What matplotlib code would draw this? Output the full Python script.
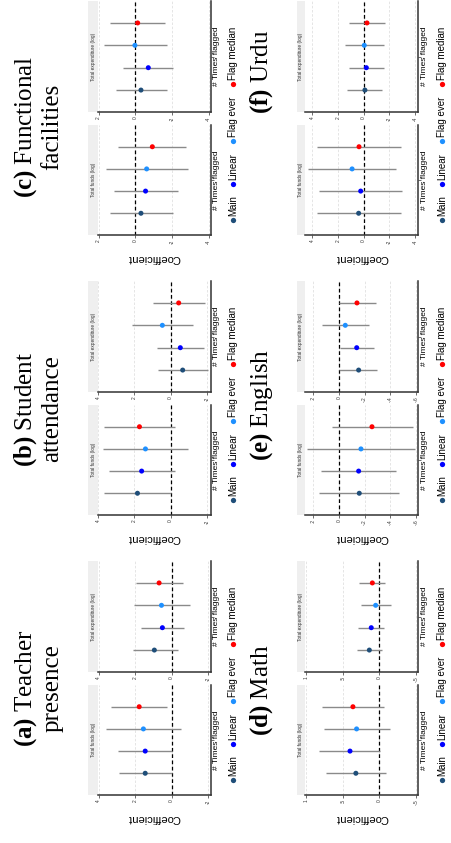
import matplotlib
matplotlib.use('Agg')
import matplotlib.pyplot as plt
from matplotlib.patches import Rectangle

plt.rcParams['font.family'] = ['Liberation Sans', 'DejaVu Sans']
plt.rcParams['mathtext.fontset'] = 'custom'
plt.rcParams['mathtext.rm'] = 'Liberation Serif'
plt.rcParams['mathtext.bf'] = 'Liberation Serif:bold'

# specifications shown in every panel
specs = ['Main', 'Linear', 'Flag ever', 'Flag median']
spec_colors = ['#1f4e79', '#0000ff', '#1e90ff', '#ff0000']
panel_labels = ['Total funds (log)', 'Total expenditure (log)']

# coefficient estimates and interval bounds (funds panel, expenditure panel)
teacher_funds_est = [1.45, 1.45, 1.55, 1.78]
teacher_funds_lo = [0.0, 0.0, -0.51, 0.25]
teacher_funds_hi = [2.9, 2.95, 3.58, 3.31]
teacher_exp_est = [0.95, 0.51, 0.56, 0.69]
teacher_exp_lo = [-0.33, -0.69, -1.0, -0.6]
teacher_exp_hi = [2.13, 1.67, 2.09, 1.95]

attend_funds_est = [1.83, 1.6, 1.39, 1.72]
attend_funds_lo = [0.0, -0.24, -0.94, -0.24]
attend_funds_hi = [3.65, 3.39, 3.71, 3.65]
attend_exp_est = [-0.66, -0.53, 0.46, -0.44]
attend_exp_lo = [-2.04, -1.83, -1.21, -1.89]
attend_exp_hi = [0.68, 0.73, 2.11, 0.99]

facil_funds_est = [-0.31, -0.56, -0.62, -0.93]
facil_funds_lo = [-2.04, -2.31, -2.85, -2.78]
facil_funds_hi = [1.38, 1.15, 1.6, 0.93]
facil_exp_est = [-0.31, -0.71, 0.02, -0.13]
facil_exp_lo = [-1.71, -2.07, -1.71, -1.64]
facil_exp_hi = [1.05, 0.65, 1.71, 1.4]

math_funds_est = [0.32, 0.40, 0.31, 0.36]
math_funds_lo = [-0.086, -0.01, -0.14, -0.06]
math_funds_hi = [0.73, 0.82, 0.76, 0.78]
math_exp_est = [0.136, 0.11, 0.05, 0.095]
math_exp_lo = [-0.04, -0.07, -0.16, -0.08]
math_exp_hi = [0.31, 0.29, 0.245, 0.28]

english_funds_est = [-0.158, -0.153, -0.171, -0.257]
english_funds_lo = [-0.47, -0.444, -0.592, -0.574]
english_funds_hi = [0.153, 0.14, 0.249, 0.057]
english_exp_est = [-0.153, -0.138, -0.049, -0.14]
english_exp_lo = [-0.30, -0.27, -0.236, -0.286]
english_exp_hi = [-0.003, -0.01, 0.135, -0.003]

urdu_funds_est = [0.39, 0.23, 0.9, 0.36]
urdu_funds_lo = [-2.89, -2.97, -2.53, -2.89]
urdu_funds_hi = [3.66, 3.48, 4.36, 3.66]
urdu_exp_est = [-0.10, -0.21, -0.05, -0.26]
urdu_exp_lo = [-1.45, -1.57, -1.55, -1.63]
urdu_exp_hi = [1.26, 1.16, 1.42, 1.16]

W, H = 451, 843
fig = plt.figure(figsize=(W / 100, H / 100), dpi=100)

# full-page overlay in pixel units for strips, labels, legends
page = fig.add_axes([0, 0, 1, 1])
page.set_xlim(0, W)
page.set_ylim(H, 0)
page.axis('off')


def box(x0, y0, x1, y1):
    return [x0 / W, 1 - y1 / H, (x1 - x0) / W, (y1 - y0) / H]


pos = [-1.5, -0.5, 0.5, 1.5]


def draw_panel(x0, x1, y0, y1, strip, est, lo, hi, lim, ticks, ticklabels, label):
    ax = fig.add_axes(box(x0, y0, x1, y1))
    ax.set_xlim(*lim)
    ax.set_ylim(-2.48, 2.48)
    for t in ticks:
        ax.axvline(t, color='#e0e0e0', lw=0.6, ls=(0, (3, 2)), zorder=0)
    ax.axvline(0, color='black', lw=0.9, ls=(0, (3, 2)), zorder=1)
    ax.hlines(pos, lo, hi, color='#8a8a8a', lw=1.0, zorder=2)
    ax.scatter(est, pos, c=spec_colors, s=13, linewidths=0, zorder=3)
    for s in ['top', 'left']:
        ax.spines[s].set_visible(False)
    for s in ['bottom', 'right']:
        ax.spines[s].set_color('#333333')
        ax.spines[s].set_linewidth(1.1)
    ax.set_xticks(ticks)
    ax.set_xticklabels(ticklabels, rotation=90, fontsize=3.5)
    ax.set_yticks([0])
    ax.set_yticklabels([])
    ax.yaxis.tick_right()
    ax.tick_params(axis='x', length=2, width=0.5, pad=1, colors='#333333')
    ax.tick_params(axis='y', length=2, width=0.5, colors='#333333')
    page.add_patch(Rectangle((strip[0], y0), strip[1] - strip[0], y1 - y0,
                             facecolor='#efefef', lw=0))
    page.text((strip[0] + strip[1]) / 2, (y0 + y1) / 2, label, rotation=90,
              fontsize=3.4, ha='center', va='center', color='#333333')
    page.text(x1 + 6, (y0 + y1) / 2, '# Times flagged', rotation=90,
              fontsize=6, ha='center', va='center')


def draw_outcome(col, base, title, title_y, funds, exp, lim, ticks, ticklabels):
    if col == 0:
        strip, px, leg_x, title_x = (88.3, 97.7), (97.7, 211), 233, 37.5
    else:
        strip, px, leg_x, title_x = (296.7, 305), (305, 418.3), 442, 262
    draw_panel(px[0], px[1], base - 110, base, strip, *funds, lim, ticks, ticklabels,
               panel_labels[0])
    draw_panel(px[0], px[1], base - 234, base - 123, strip, *exp, lim, ticks, ticklabels,
               panel_labels[1])
    page.text((px[0] + px[1]) / 2, base + 23, 'Coefficient', rotation=180,
              fontsize=8, ha='center', va='center')
    for off, name, c in zip([-15, -51, -94, -151], specs, spec_colors):
        page.plot(leg_x, base + off, 'o', color=c, ms=3.8, mew=0)
        page.text(leg_x, base + off - 4, name, rotation=90, fontsize=7,
                  ha='center', va='bottom')
    page.text(title_x, title_y, title, rotation=90, fontsize=18, ha='center',
              va='center', multialignment='center', family='Liberation Serif',
              linespacing=1.15)


draw_outcome(0, 795, '$\\mathbf{(a)}$ Teacher\npresence', 688,
             (teacher_funds_est, teacher_funds_lo, teacher_funds_hi),
             (teacher_exp_est, teacher_exp_lo, teacher_exp_hi),
             (4.05, -2.15), [4, 2, 0, -2], ['4', '2', '0', '-2'])
draw_outcome(0, 515, '$\\mathbf{(b)}$ Student\nattendance', 409,
             (attend_funds_est, attend_funds_lo, attend_funds_hi),
             (attend_exp_est, attend_exp_lo, attend_exp_hi),
             (4.02, -2.22), [4, 2, 0, -2], ['4', '2', '0', '-2'])
draw_outcome(0, 235, '$\\mathbf{(c)}$ Functional\nfacilities', 127,
             (facil_funds_est, facil_funds_lo, facil_funds_hi),
             (facil_exp_est, facil_exp_lo, facil_exp_hi),
             (2.05, -4.13), [2, 0, -2, -4], ['2', '0', '-2', '-4'])
draw_outcome(1, 795, '$\\mathbf{(d)}$ Math', 690,
             (math_funds_est, math_funds_lo, math_funds_hi),
             (math_exp_est, math_exp_lo, math_exp_hi),
             (1.014, -0.532), [1, 0.5, 0, -0.5], ['1', '.5', '0', '-.5'])
draw_outcome(1, 515, '$\\mathbf{(e)}$ English', 405,
             (english_funds_est, english_funds_lo, english_funds_hi),
             (english_exp_est, english_exp_lo, english_exp_hi),
             (0.265, -0.618), [0.2, 0, -0.2, -0.4, -0.6], ['.2', '0', '-.2', '-.4', '-.6'])
draw_outcome(1, 235, '$\\mathbf{(f)}$ Urdu', 72,
             (urdu_funds_est, urdu_funds_lo, urdu_funds_hi),
             (urdu_exp_est, urdu_exp_lo, urdu_exp_hi),
             (4.57, -4.26), [4, 2, 0, -2, -4], ['4', '2', '0', '-2', '-4'])

fig.savefig('out.png', dpi=100)
